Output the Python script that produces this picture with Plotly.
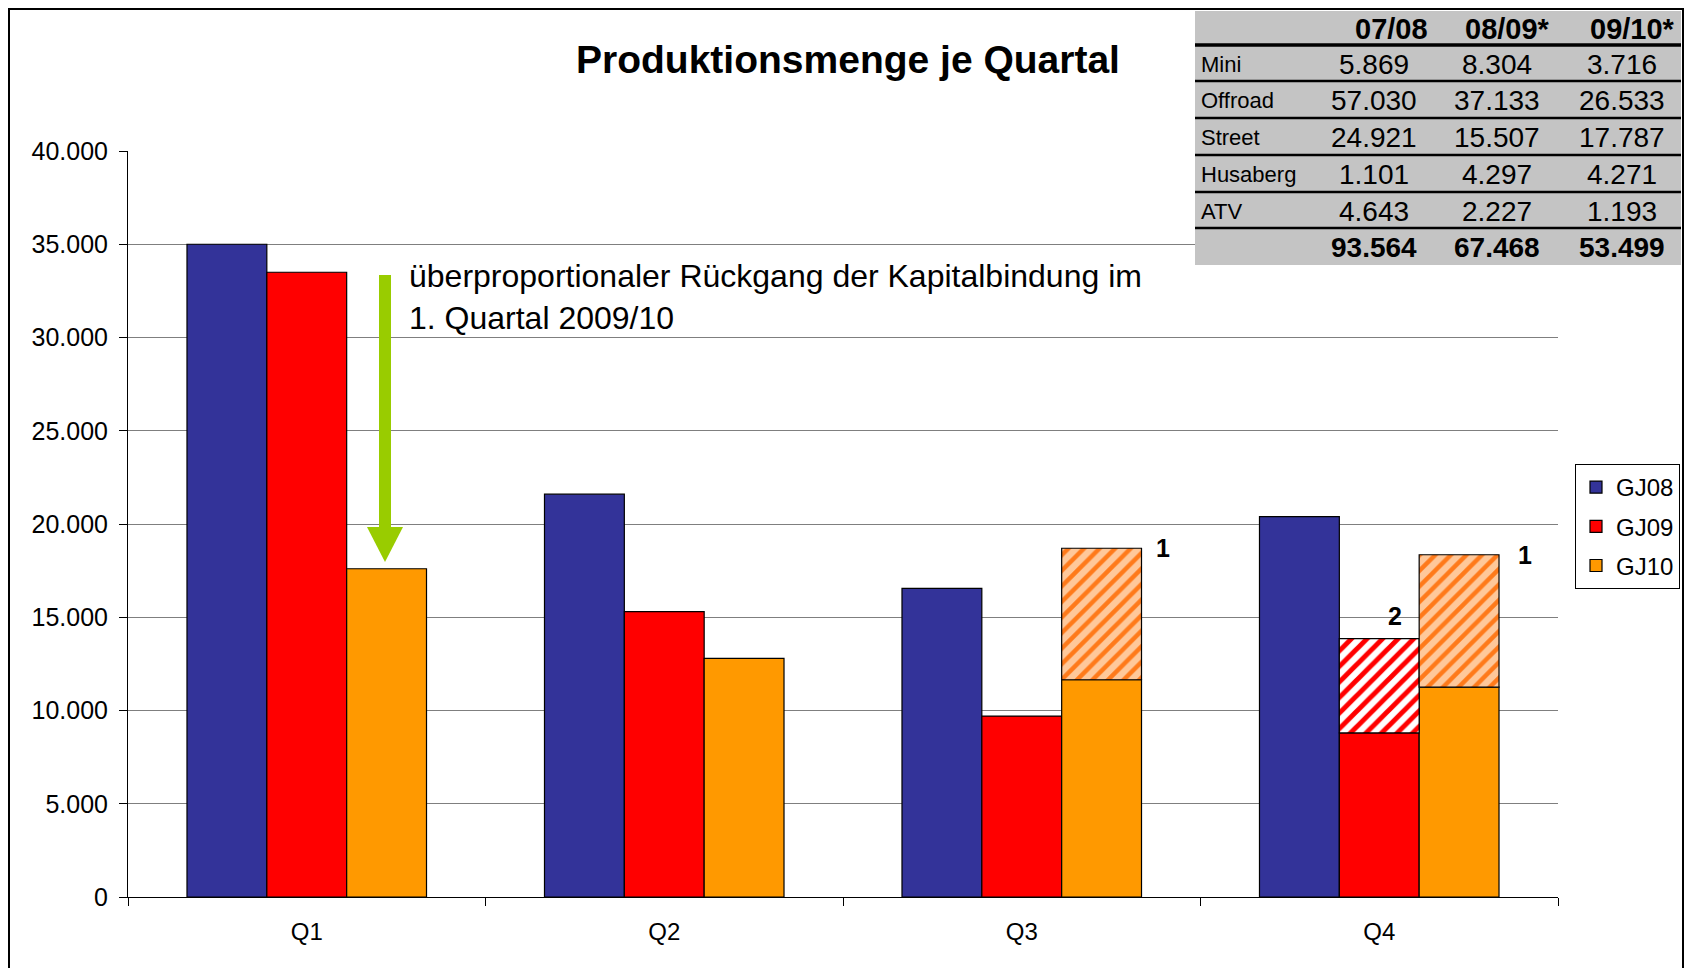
import plotly.graph_objects as go

quarters = ["Q1", "Q2", "Q3", "Q4"]
gj08 = [35000, 21600, 16550, 20400]
gj09 = [33500, 15300, 9700, 8800]
gj10 = [17600, 12800, 11650, 11250]
# hatched upper parts (top of the hatched segment, None = no segment)
gj09_top = [None, None, None, 13850]
gj10_top = [None, None, 18700, 18350]

table_cols = ["07/08", "08/09*", "09/10*"]
table_rows = ["Mini", "Offroad", "Street", "Husaberg", "ATV"]
table_vals = [
    [5869, 8304, 3716],
    [57030, 37133, 26533],
    [24921, 15507, 17787],
    [1101, 4297, 4271],
    [4643, 2227, 1193],
]
table_totals = [93564, 67468, 53499]

FONT = "Liberation Sans, Arial, sans-serif"
OFF = 8  # page body margin
W, H = 1676, 960
L, R, T, B = 120, 126, 143, 71


def px(x):
    return (x - OFF - L) / (W - L - R)


def py(y):
    return (H - B - (y - OFF)) / (H - T - B)


def de(v):
    return f"{v:,}".replace(",", ".")


def extra(top, base):
    return [None if t is None else t - b for t, b in zip(top, base)]


fig = go.Figure()
fig.add_bar(x=quarters, y=gj08, name="GJ08", offsetgroup="a", legendgroup="a",
            marker=dict(color="#333399", line=dict(color="black", width=1.2)))
fig.add_bar(x=quarters, y=gj09, name="GJ09", offsetgroup="b", legendgroup="b",
            marker=dict(color="#FF0000", line=dict(color="black", width=1.2)))
fig.add_bar(x=quarters, y=gj10, name="GJ10", offsetgroup="c", legendgroup="c",
            marker=dict(color="#FF9900", line=dict(color="black", width=1.2)))
fig.add_bar(x=quarters, y=extra(gj09_top, gj09), base=gj09, offsetgroup="b", showlegend=False,
            marker=dict(color="white", line=dict(color="black", width=1.2),
                        pattern=dict(shape="/", fgcolor="#FF0000", bgcolor="white",
                                     fillmode="replace", size=11, solidity=0.45)))
fig.add_bar(x=quarters, y=extra(gj10_top, gj10), base=gj10, offsetgroup="c", showlegend=False,
            marker=dict(color="#FFC89A", line=dict(color="black", width=1.2),
                        pattern=dict(shape="/", fgcolor="#FF7A1A", bgcolor="#FFC89A",
                                     fillmode="replace", size=11, solidity=0.4)))

shapes = []
annotations = []

# outer frame
shapes.append(dict(type="rect", xref="paper", yref="paper", x0=px(9), x1=px(1683), y0=py(990), y1=py(9),
                   line=dict(color="black", width=2), layer="below"))

# table
tx0, tx1 = 1195, 1681
row_edges = [11, 45, 81, 118, 155, 192, 228, 265]
shapes.append(dict(type="rect", xref="paper", yref="paper", x0=px(tx0), x1=px(tx1),
                   y0=py(row_edges[-1]), y1=py(row_edges[0]), fillcolor="#C4C4C4", line=dict(width=0)))
for i, ye in enumerate(row_edges[1:-1]):
    shapes.append(dict(type="line", xref="paper", yref="paper", x0=px(tx0), x1=px(tx1),
                       y0=py(ye), y1=py(ye), line=dict(color="black", width=3.5 if i == 0 else 2.5)))

head_right = [1430, 1552, 1677]
val_center = [1374, 1497, 1622]
hy = (row_edges[0] + row_edges[1]) / 2 + 1
for c, xr in zip(table_cols, head_right):
    annotations.append(dict(text=f"<b>{c}</b>", xref="paper", yref="paper", x=px(xr), y=py(hy),
                            xanchor="right", yanchor="middle", showarrow=False, font=dict(size=29)))
for r, name in enumerate(table_rows):
    yc = (row_edges[r + 1] + row_edges[r + 2]) / 2 + 1
    annotations.append(dict(text=name, xref="paper", yref="paper", x=px(1199), y=py(yc),
                            xanchor="left", yanchor="middle", showarrow=False, font=dict(size=22)))
    for v, xc in zip(table_vals[r], val_center):
        annotations.append(dict(text=de(v), xref="paper", yref="paper", x=px(xc), y=py(yc),
                                xanchor="center", yanchor="middle", showarrow=False, font=dict(size=28)))
yc = (row_edges[-2] + row_edges[-1]) / 2 + 1
for v, xc in zip(table_totals, val_center):
    annotations.append(dict(text=f"<b>{de(v)}</b>", xref="paper", yref="paper", x=px(xc), y=py(yc),
                            xanchor="center", yanchor="middle", showarrow=False, font=dict(size=28)))

# green arrow
ax = px(385)
shapes.append(dict(type="rect", xref="paper", yref="y", xsizemode="pixel", xanchor=ax,
                   x0=-6, x1=6, y0=19800, y1=33350, fillcolor="#99CC00", line=dict(width=0)))
shapes.append(dict(type="path", xref="paper", yref="y", xsizemode="pixel", xanchor=ax,
                   path="M -18,19840 L 18,19840 L 0,17960 Z", fillcolor="#99CC00", line=dict(width=0)))
annotations.append(dict(text="überproportionaler Rückgang der Kapitalbindung im<br>1. Quartal 2009/10",
                        xref="paper", yref="y", x=px(407), y=32150, xanchor="left", yanchor="middle",
                        align="left", showarrow=False, font=dict(size=32)))

# footnote markers
for q, top, shift, label, ys in [("Q3", 18700, 141, "1", 0), ("Q4", 18350, 146, "1", 0), ("Q4", 13850, 16, "2", 23)]:
    annotations.append(dict(text=f"<b>{label}</b>", x=q, y=top, xshift=shift, yshift=ys,
                            yanchor="middle", showarrow=False, font=dict(size=25)))

fig.update_layout(
    width=W, height=H,
    margin=dict(l=L, r=R, t=T, b=B, autoexpand=False),
    paper_bgcolor="white", plot_bgcolor="white",
    font=dict(family=FONT, color="black"),
    separators=",.",
    barmode="group", bargap=0.33, bargroupgap=0,
    title=dict(text="<b>Produktionsmenge je Quartal</b>", x=(848 - OFF) / W, xanchor="center",
               y=1 - (59 - OFF) / H, yanchor="middle", font=dict(size=39)),
    legend=dict(x=px(1575), y=py(464), xanchor="left", yanchor="top",
                bordercolor="black", borderwidth=1, bgcolor="white",
                font=dict(size=24), tracegroupgap=5, traceorder="grouped"),
    shapes=shapes, annotations=annotations,
)
fig.update_xaxes(showline=True, linecolor="black", linewidth=1, ticks="outside", ticklen=8,
                 tickson="boundaries", tickcolor="black", tickfont=dict(size=24), showgrid=False,
                 ticklabelstandoff=13)
fig.update_yaxes(range=[0, 40000], dtick=5000, tickformat=",d", showline=True, linecolor="black",
                 linewidth=1, ticks="outside", ticklen=8, tickcolor="black", tickfont=dict(size=25),
                 ticklabelstandoff=6,
                 showgrid=True, gridcolor="#7F7F7F", gridwidth=1, zeroline=False)

fig.write_html("out.html")
